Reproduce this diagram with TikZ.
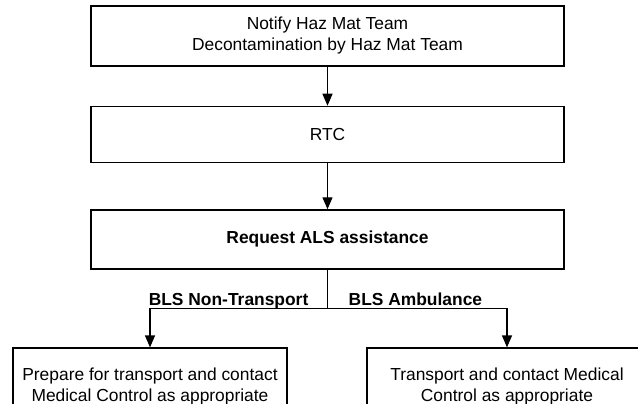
\documentclass[tikz,border=0pt]{standalone}
\usepackage{fontspec}
\setmainfont{Liberation Sans}
\usetikzlibrary{arrows.meta, positioning}

\begin{document}
\begin{tikzpicture}[
    x=1pt, y=-1pt,
    node distance=39pt,
    every node/.style={align=center, font=\fontsize{17.4}{21}\selectfont},
    stage/.style={rectangle, draw=black, line width=1.5pt, minimum width=473pt, minimum height=60pt, inner sep=0pt},
    outcome/.style={rectangle, draw=black, line width=1.2pt, minimum height=76pt, inner sep=0pt},
    branch/.style={font=\fontsize{17.4}{21}\selectfont\bfseries, inner sep=0pt},
    arrow/.style={line width=1.2pt, -{Triangle[length=12pt, width=10pt]}}
]
\useasboundingbox (0,0) rectangle (638,404);
\clip (0,0) rectangle (638,404);

% Main steps
\node (notify) [stage] at (327.5,36) {Notify Haz Mat Team\\Decontamination by Haz Mat Team};
\node (rtc) [stage, minimum height=56pt, below=39pt of notify] {RTC};
\node (request) [stage, minimum height=59pt, below=46pt of rtc, font=\fontsize{17.4}{21}\selectfont\bfseries] {Request ALS assistance};

% Split point
\coordinate [below=39pt of request.south] (split);

% Outcomes
\node (prep) [outcome, minimum width=274pt] at (150,386) {Prepare for transport and contact\\Medical Control as appropriate};
\node (transport) [outcome, minimum width=280pt] at (507,386) {Transport and contact Medical\\Control as appropriate};

% Branch labels
\node [branch, anchor=base east, xshift=-19pt, yshift=3pt] at (split) {BLS Non-Transport};
\node [branch, anchor=base west, xshift=21pt, yshift=3pt] at (split) {BLS Ambulance};

% Arrows
\draw [arrow] (notify) -- (rtc);
\draw [arrow] (rtc) -- (request);
\draw [line width=1.2pt] (request) -- (split);
\draw [arrow] (split) -| (prep.north);
\draw [arrow] (split) -| (transport.north);

\end{tikzpicture}
\end{document}
